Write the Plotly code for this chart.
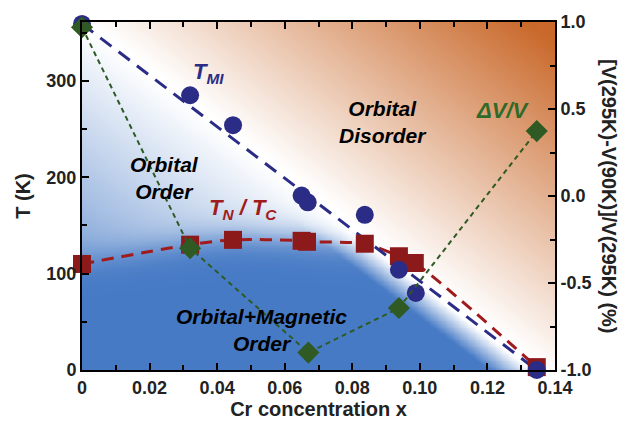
import numpy as np
import plotly.graph_objects as go

# ---- data ----
x_mi = [0.0, 0.032, 0.0447, 0.065, 0.0668, 0.0837, 0.0938, 0.0988, 0.1346]
t_mi = [359, 285, 254, 181, 174, 161, 104, 80, 0]

x_n = [0.0, 0.032, 0.0447, 0.065, 0.0666, 0.0837, 0.0938, 0.0985, 0.1346]
t_n = [110, 130, 135, 134, 133, 131, 118, 111, 3]

x_dv = [0.0, 0.032, 0.067, 0.0938, 0.1346]
dv = [0.97, -0.30, -0.90, -0.644, 0.373]

x_ticks = [0, 0.02, 0.04, 0.06, 0.08, 0.10, 0.12, 0.14]
x_ticktext = ["0", "0.02", "0.04", "0.06", "0.08", "0.10", "0.12", "0.14"]
y_ticks = [0, 100, 200, 300]
y2_ticks = [-1.0, -0.5, 0.0, 0.5, 1.0]
y2_ticktext = ["-1.0", "-0.5", "0.0", "0.5", "1.0"]

XMAX, YMAX = 0.14, 361

FONT = "Liberation Sans, Arial, sans-serif"
NAVY = "#2a2c86"
RED = "#8c1a1a"
GREEN = "#2f5a24"

# ---- background shading (blue = ordered, orange = disordered) ----
gx = np.linspace(0, XMAX, 181)
gy = np.linspace(0, YMAX, 201)
GX, GY = np.meshgrid(gx, gy)
sx = 473 / XMAX   # approx pixels per unit x
sy = 355 / YMAX   # approx pixels per unit y
PX, PY = GX * sx, -GY * sy
ax_, ay_ = x_mi[0] * sx, -t_mi[0] * sy
bx_, by_ = x_mi[-1] * sx, -t_mi[-1] * sy
L = np.hypot(bx_ - ax_, by_ - ay_)
cross = ((bx_ - ax_) * (PY - ay_) - (by_ - ay_) * (PX - ax_)) / L
d_or = -cross  # positive above the line (orange side)
z_or = np.clip((d_or - 6) / 270, 0, 1)
dd = -d_or
upper = np.clip(dd / 290, 0, 0.85)
lower = np.clip((dd - 3) / 26, 0, 1)
tdome = np.interp(GX, x_n, t_n) + 4
s = 1 / (1 + np.exp(-(tdome - GY) / 9))
blue = s * lower + (1 - s) * upper
Z = np.where(d_or > 0, z_or, -blue)

cscale = [[0.0, "rgb(70,122,197)"], [0.5, "rgb(255,255,255)"], [1.0, "rgb(201,104,42)"]]

fig = go.Figure()
fig.add_trace(go.Heatmap(x=gx, y=gy, z=Z, zmin=-1, zmax=1, colorscale=cscale,
                         showscale=False, zsmooth="best", hoverinfo="skip"))

# T_N / T_C dashed curve
fig.add_trace(go.Scatter(x=x_n, y=t_n, mode="lines",
                         line=dict(color="#a01c1c", width=3, dash="12px,8px", shape="spline", smoothing=0.8),
                         showlegend=False, hoverinfo="skip"))
# T_MI dashed line
fig.add_trace(go.Scatter(x=[x_mi[0], x_mi[-1]], y=[t_mi[0], t_mi[-1]], mode="lines",
                         line=dict(color=NAVY, width=3, dash="14px,9px"),
                         showlegend=False, hoverinfo="skip"))
# squares
fig.add_trace(go.Scatter(x=x_n, y=t_n, mode="markers",
                         marker=dict(symbol="square", size=18, color=RED),
                         cliponaxis=False, showlegend=False))
# circles
fig.add_trace(go.Scatter(x=x_mi, y=t_mi, mode="markers",
                         marker=dict(symbol="circle", size=18, color=NAVY),
                         cliponaxis=False, showlegend=False))
# ΔV/V on right axis
fig.add_trace(go.Scatter(x=x_dv, y=dv, mode="lines+markers", yaxis="y2",
                         line=dict(color=GREEN, width=2, dash="5px,4px"),
                         marker=dict(symbol="diamond", size=17, color=GREEN),
                         cliponaxis=False, showlegend=False))

tickfont = dict(family=FONT, size=18, color="#222", weight="bold")
axcommon = dict(showline=True, linecolor="black", linewidth=2, ticks="inside",
                ticklen=7, tickwidth=1.5, tickcolor="black", showgrid=False, zeroline=False,
                tickfont=tickfont)

fig.update_layout(
    width=623, height=428,
    margin=dict(l=82, r=68, t=16, b=57),
    paper_bgcolor="white", plot_bgcolor="white",
    xaxis=dict(range=[0, XMAX], tickvals=x_ticks, ticktext=x_ticktext, mirror="ticks",
               minor=dict(dtick=0.01, tick0=0, ticks="inside", ticklen=5, tickcolor="black"),
               title=dict(text="Cr concentration x", font=dict(family=FONT, size=20, color="#222", weight="bold"), standoff=4),
               **axcommon),
    yaxis=dict(range=[0, YMAX], tickvals=y_ticks,
               minor=dict(dtick=50, tick0=0, ticks="inside", ticklen=5, tickcolor="black"),
               title=dict(text="T (K)", font=dict(family=FONT, size=20, color="#222", weight="bold"), standoff=10),
               **axcommon),
    yaxis2=dict(range=[-1, 1], overlaying="y", side="right", tickvals=y2_ticks, ticktext=y2_ticktext,
                minor=dict(dtick=0.25, tick0=0, ticks="inside", ticklen=5, tickcolor="black"),
                **axcommon),
    font=dict(family=FONT),
)

def ann(text, x, y, color, size=22):
    fig.add_annotation(x=x, y=y, xref="x", yref="y", text=text, showarrow=False,
                       font=dict(family=FONT, size=size, color=color), align="center")

ann("<b><i>T<sub>MI</sub></i></b>", 0.0373, 308, NAVY, 22)
ann("<b><i>Orbital<br>Disorder</i></b>", 0.089, 257, "black", 21)
ann("<b><i>Orbital<br>Order</i></b>", 0.0243, 199, "black", 21)
ann("<b><i>T<sub>N</sub> / T<sub>C</sub></i></b>", 0.0476, 167, "#a01c1c", 22)
ann("<b><i>Orbital+Magnetic<br>Order</i></b>", 0.053, 41, "black", 21)
ann("<b><i>ΔV/V</i></b>", 0.1246, 269, "#2f6a28", 22)

fig.add_annotation(x=1.0, y=0.5, xref="paper", yref="paper", xanchor="center", yanchor="middle",
                   xshift=54, textangle=90,
                   text="<b>[V(295K)-V(90K)]/V(295K) (%)</b>", showarrow=False,
                   font=dict(family=FONT, size=20, color="#222"))

fig.write_html("out.html")
